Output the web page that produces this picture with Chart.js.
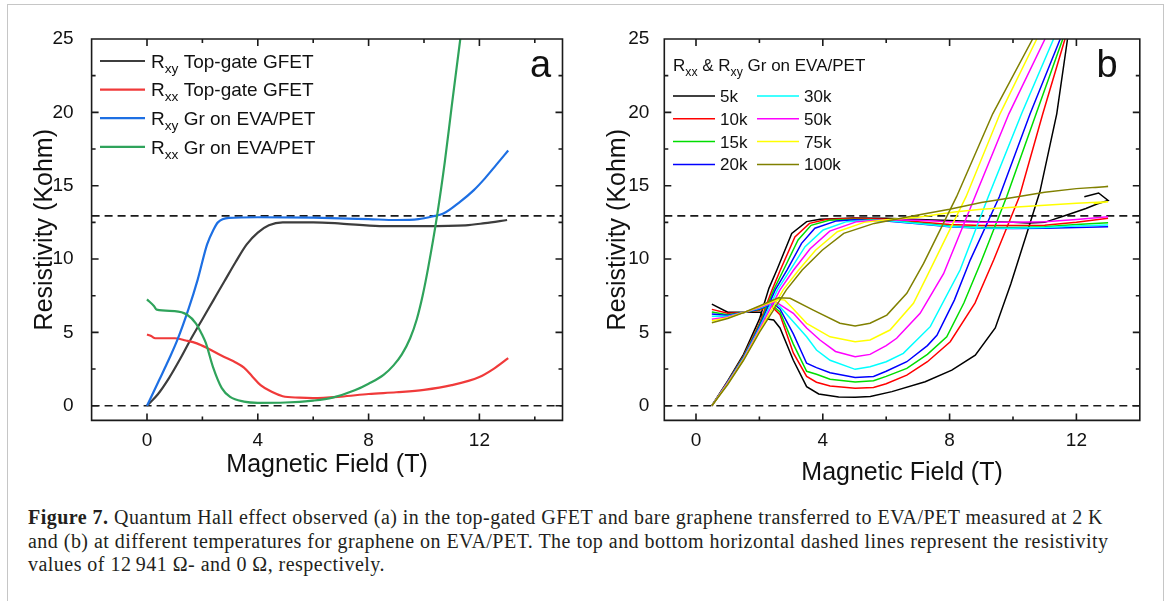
<!DOCTYPE html>
<html>
<head>
<meta charset="utf-8">
<script src="https://cdn.jsdelivr.net/npm/chart.js@4.4.1/dist/chart.umd.min.js"></script>
<style>
  body { margin: 0; width: 1167px; height: 601px; overflow: hidden; position: relative; background: #fff; }
  .frame { position: absolute; left: 7px; top: 4px; width: 1155px; height: 700px; border: 1.5px solid #c6c6c6; }
  #ca { position: absolute; left: 0; top: 0; }
  #cb { position: absolute; left: 575px; top: 0; }
  .caption { position: absolute; left: 28px; top: 506px; font-family: "Liberation Serif", "DejaVu Serif", serif;
             font-size: 20px; line-height: 23.5px; color: #231f20; white-space: nowrap; }
  .caption div { display: block; }
  .caption span.l { display: inline-block; }
</style>
</head>
<body>
<div class="frame"></div>
<canvas id="ca" width="580" height="490"></canvas>
<canvas id="cb" width="592" height="490"></canvas>
<div class="caption" id="cap">
  <div><span class="l"><b>Figure 7.</b> Quantum Hall effect observed (a) in the top-gated GFET and bare graphene transferred to EVA/PET measured at 2 K</span></div>
  <div><span class="l">and (b) at different temperatures for graphene on EVA/PET. The top and bottom horizontal dashed lines represent the resistivity</span></div>
  <div><span class="l">values of 12&#8201;941 &#937;- and 0 &#937;, respectively.</span></div>
</div>
<script>
const FONT = '"Liberation Sans", Arial, sans-serif';

// ---- panel a : 2 K, [field (T), resistivity (kOhm)] ----
const aRxyTopGate = [[0,0],[0.4,0.8],[0.8,1.9],[1.2,3.2],[1.6,4.6],[2.0,5.9],[2.4,7.2],[2.8,8.5],[3.2,9.8],[3.6,11.0],[4.0,11.8],[4.4,12.3],[4.9,12.5],[6.0,12.5],[7.0,12.42],[8.4,12.25],[10,12.25],[11.5,12.3],[12.2,12.45],[13,12.66]];
const aRxxTopGate = [[0,4.85],[0.15,4.75],[0.3,4.6],[1.0,4.6],[1.4,4.45],[1.8,4.25],[2.2,3.9],[2.7,3.4],[3.2,2.95],[3.5,2.6],[3.8,2.0],[4.1,1.4],[4.5,0.95],[4.9,0.65],[5.5,0.55],[6.0,0.52],[7.0,0.62],[8.0,0.8],[9.0,0.92],[10,1.08],[11,1.4],[12,1.96],[12.5,2.5],[13.04,3.25]];
const aRxyEva = [[0,0],[0.44,1.75],[0.8,3.2],[1.1,4.5],[1.5,6.6],[1.83,8.6],[2.17,11.0],[2.4,12.0],[2.56,12.5],[2.96,12.8],[4,12.85],[6,12.82],[8,12.72],[9,12.66],[9.8,12.72],[10.3,12.9],[10.7,13.1],[11.3,13.9],[11.8,14.7],[12.2,15.5],[12.6,16.4],[13.04,17.4]];
const aRxxEva = [[0,7.25],[0.25,6.8],[0.35,6.55],[1.0,6.45],[1.45,6.2],[1.77,5.6],[2.0,4.8],[2.12,4.3],[2.39,2.6],[2.7,1.2],[3.0,0.6],[3.5,0.28],[4.0,0.2],[5.0,0.22],[6.0,0.35],[6.7,0.55],[7.5,1.05],[8.0,1.5],[8.54,2.1],[8.9,2.75],[9.2,3.5],[9.5,4.6],[9.74,5.9],[9.95,7.5],[10.15,9.4],[10.47,12.93],[10.75,16.6],[11.0,20.4],[11.31,25]];
const aLabels = ['R_{xy} Top-gate GFET', 'R_{xx} Top-gate GFET', 'R_{xy} Gr on EVA/PET', 'R_{xx} Gr on EVA/PET'];
const aColors = ['#3d3d3d', '#f03a3a', '#1d6fe3', '#2fa35b'];

// ---- panel b : Gr on EVA/PET at several temperatures ----
const temps = ['5k', '10k', '15k', '20k', '30k', '50k', '75k', '100k'];
const tempColors = ['#000000', '#ff0000', '#00dd00', '#0000ff', '#00ffff', '#ff00ff', '#ffff00', '#808000'];

const bRxx5k = [[0.5,6.93],[1.0,6.37],[2.05,6.37],[2.1,5.95],[2.45,5.84],[2.65,5.3],[3.07,3.1],[3.49,1.3],[3.87,0.8],[4.5,0.6],[5.02,0.57],[5.5,0.63],[6.18,0.96],[7.23,1.64],[8.07,2.43],[8.81,3.45],[9.44,5.3],[9.93,8.3],[10.4,11.5],[10.85,14.6],[11.38,19.9],[11.72,25]];
const bRxx10k = [[0.5,6.57],[1.0,6.3],[1.5,6.35],[2.0,6.5],[2.35,6.85],[2.65,6.2],[3.07,3.6],[3.49,2.0],[3.8,1.6],[4.23,1.35],[5.02,1.19],[5.6,1.25],[6.0,1.5],[6.65,2.09],[7.3,3.0],[8.02,4.36],[8.8,7.0],[9.39,9.93],[10.2,14.25],[10.94,19.9],[11.64,25]];
const bRxx15k = [[0.5,6.39],[1.0,6.2],[1.5,6.35],[2.0,6.55],[2.38,6.9],[2.65,6.4],[3.07,4.2],[3.49,2.35],[3.8,2.15],[4.23,1.8],[5.02,1.62],[5.6,1.7],[6.0,2.0],[6.65,2.55],[7.3,3.5],[7.91,4.7],[8.45,7.0],[8.97,9.7],[9.8,14.25],[10.73,19.9],[11.57,25]];
const bRxx20k = [[0.5,6.25],[1.0,6.15],[1.5,6.35],[2.0,6.6],[2.42,7.0],[2.65,6.6],[3.07,4.9],[3.49,2.9],[3.8,2.6],[4.23,2.25],[5.02,1.93],[5.6,2.0],[6.0,2.35],[6.65,3.0],[7.3,4.1],[7.6,4.8],[8.15,7.2],[8.65,9.93],[9.57,14.25],[10.54,19.9],[11.49,25]];
const bRxx30k = [[0.5,6.1],[1.0,6.1],[1.5,6.35],[2.0,6.65],[2.45,7.05],[2.65,6.75],[3.07,5.73],[3.49,4.7],[3.8,3.8],[4.23,3.1],[5.02,2.48],[5.49,2.66],[6.0,3.0],[6.54,3.57],[7.39,5.39],[8.33,9.25],[9.22,14.25],[10.27,19.9],[11.28,25]];
const bRxx50k = [[0.5,5.89],[1.0,6.05],[1.5,6.35],[2.0,6.7],[2.5,7.1],[2.65,6.9],[3.07,6.3],[3.49,5.3],[3.91,4.48],[4.4,3.7],[5.02,3.34],[5.49,3.5],[6.0,4.1],[6.33,4.6],[7.07,6.3],[7.81,9.0],[8.8,14.25],[9.87,19.9],[11.01,25]];
const bRxx75k = [[0.5,5.8],[1.0,6.0],[1.5,6.35],[2.0,6.75],[2.6,7.25],[2.8,7.2],[3.07,6.6],[3.49,5.62],[4.23,4.7],[5.02,4.36],[5.49,4.48],[6.12,5.16],[6.86,6.98],[7.28,8.8],[8.52,14.25],[9.59,19.9],[10.75,25]];
const bRxx100k = [[0.5,5.66],[1.0,5.95],[1.5,6.35],[2.0,6.8],[2.6,7.36],[2.97,7.32],[3.7,6.52],[4.54,5.62],[5.02,5.43],[5.49,5.62],[6.02,6.18],[6.65,7.66],[7.18,9.7],[8.22,14.25],[9.36,19.9],[10.62,25]];

const bRxy5k = [[0.5,0],[1.0,1.7],[1.5,3.5],[2.0,5.9],[2.3,8.0],[2.55,9.25],[3.02,11.75],[3.49,12.55],[3.91,12.72],[5,12.8],[6,12.78],[7,12.7],[8,12.62],[9,12.55],[10,12.5],[10.5,12.45],[11,12.5],[11.7,13.0],[12.3,13.45],[12.65,13.75],[13,14.0],[12.7,14.5],[12.25,14.25]];
const bRxy10k = [[0.5,0],[1.0,1.65],[1.5,3.4],[2.0,5.6],[2.4,7.9],[2.66,9.25],[3.12,11.5],[3.58,12.43],[4.1,12.7],[5,12.78],[6,12.72],[7,12.55],[8,12.35],[9,12.28],[10,12.28],[11,12.3],[12,12.5],[13,12.78]];
const bRxy15k = [[0.5,0],[1.0,1.62],[1.5,3.35],[2.0,5.5],[2.45,7.9],[2.76,9.25],[3.22,11.3],[3.63,12.3],[4.2,12.65],[5,12.72],[6,12.65],[7,12.45],[8,12.25],[9,12.15],[10,12.15],[11,12.2],[12,12.35],[13,12.48]];
const bRxy20k = [[0.5,0],[1.0,1.6],[1.5,3.3],[2.0,5.4],[2.5,7.9],[2.87,9.25],[3.33,11.07],[3.75,12.1],[4.43,12.6],[5,12.68],[6,12.6],[7,12.4],[8,12.2],[9,12.1],[10,12.08],[11,12.1],[12,12.15],[13,12.2]];
const bRxy30k = [[0.5,0],[1.0,1.58],[1.5,3.25],[2.0,5.3],[2.57,7.9],[2.97,9.25],[3.44,10.84],[4.01,11.98],[4.75,12.55],[5.5,12.65],[6,12.62],[7,12.42],[8,12.22],[9,12.12],[10,12.1],[11,12.15],[12,12.25],[13,12.32]];
const bRxy50k = [[0.5,0],[1.0,1.55],[1.5,3.2],[2.0,5.2],[2.65,7.9],[3.08,9.25],[3.6,10.7],[4.22,11.9],[5.07,12.55],[6,12.68],[7,12.64],[8,12.55],[9,12.5],[10,12.5],[11,12.55],[12,12.7],[13,12.88]];
const bRxy75k = [[0.5,0],[1.0,1.5],[1.5,3.15],[2.0,5.1],[2.75,7.9],[3.24,9.25],[3.77,10.6],[4.46,11.86],[5.3,12.5],[6,12.68],[7,12.85],[8.15,13.2],[9,13.4],[10.5,13.6],[12,13.8],[13,13.9],[12.55,13.78]];
const bRxy100k = [[0.5,0],[1.0,1.45],[1.5,3.1],[2.0,5.0],[2.85,7.9],[3.35,9.25],[3.98,10.6],[4.66,11.75],[5.62,12.43],[6.15,12.65],[7,13.0],[8,13.4],[9,13.85],[10,14.2],[11,14.55],[12,14.8],[13,14.95],[12.6,14.88]];

const bRxx = [bRxx5k, bRxx10k, bRxx15k, bRxx20k, bRxx30k, bRxx50k, bRxx75k, bRxx100k];
const bRxy = [bRxy5k, bRxy10k, bRxy15k, bRxy20k, bRxy30k, bRxy50k, bRxy75k, bRxy100k];

// dashed levels: h/e^2 plateau (12 941 Ohm) and zero
const refLevels = [12.941, 0];

const xTicks = [0, 4, 8, 12];
const xMinorA = [2, 6, 10, 14];
const xMinorB = [2, 6, 10];
const yTicks = [0, 5, 10, 15, 20, 25];
const yMinor = [2.5, 7.5, 12.5, 17.5, 22.5];

const pts = arr => arr.map(([x, y]) => ({ x, y }));

function drawRich(ctx, label, x, y, size) {
  // y is the vertical centre of the capitals
  const base = y + size * 0.358;
  label.split(/_\{([^}]*)\}/).forEach((p, i) => {
    if (!p) return;
    const sub = i % 2 === 1;
    ctx.font = (sub ? size * 0.72 : size) + 'px ' + FONT;
    ctx.fillText(p, x, sub ? base + size * 0.26 : base);
    x += ctx.measureText(p).width;
  });
}

// box with inward ticks on all four sides
const frameTicks = {
  id: 'frameTicks',
  afterDraw(chart, args, o) {
    const { ctx, chartArea: a, scales: { x, y } } = chart;
    ctx.save();
    ctx.strokeStyle = '#1a1a1a';
    ctx.lineWidth = 1.6;
    ctx.beginPath();
    ctx.rect(a.left, a.top, a.right - a.left, a.bottom - a.top);
    const xm = (vals, len) => vals.forEach(v => {
      const px = x.getPixelForValue(v);
      ctx.moveTo(px, a.bottom); ctx.lineTo(px, a.bottom - len);
      ctx.moveTo(px, a.top); ctx.lineTo(px, a.top + len);
    });
    const ym = (vals, len) => vals.forEach(v => {
      const py = y.getPixelForValue(v);
      ctx.moveTo(a.left, py); ctx.lineTo(a.left + len, py);
      ctx.moveTo(a.right, py); ctx.lineTo(a.right - len, py);
    });
    xm(xTicks, 7); xm(o.xMinor, 4);
    ym(yTicks, 7); ym(yMinor, 4);
    ctx.stroke();
    ctx.restore();
  }
};

// hand-placed legend with subscripts, plus panel letter
const legendBox = {
  id: 'legendBox',
  afterDraw(chart, args, o) {
    const ctx = chart.ctx;
    ctx.save();
    ctx.fillStyle = '#111';
    ctx.textBaseline = 'alphabetic';
    ctx.textAlign = 'left';
    if (o.header) drawRich(ctx, o.header, o.x, o.headerY, o.size);
    o.labels.forEach((lab, i) => {
      const col = Math.floor(i / o.rows), row = i % o.rows;
      const x = o.x + col * o.colGap, y = o.y + row * o.rowGap;
      ctx.strokeStyle = o.colors[i];
      ctx.lineWidth = o.lineWidth;
      ctx.beginPath(); ctx.moveTo(x, y); ctx.lineTo(x + o.lineLen, y); ctx.stroke();
      drawRich(ctx, lab, x + o.lineLen + o.gap, y, o.size);
    });
    ctx.font = '38px ' + FONT;
    ctx.textAlign = 'center';
    ctx.fillText(o.tag, o.tagX, o.tagY);
    ctx.restore();
  }
};

function scales(xmin, xmax, yWidth, yTitlePad, yTickPad, xTitlePad) {
  const tickFont = { family: FONT, size: 19 };
  const titleFont = { family: FONT, size: 25 };
  return {
    x: {
      type: 'linear', min: xmin, max: xmax,
      afterBuildTicks: s => { s.ticks = xTicks.map(v => ({ value: v })); },
      afterFit: s => { s.height = 69.6; },
      grid: { display: false }, border: { display: false },
      ticks: { color: '#111', font: tickFont, padding: 1, maxRotation: 0, autoSkip: false },
      title: { display: true, text: 'Magnetic Field (T)', color: '#111', font: titleFont, padding: { top: 0, bottom: xTitlePad } }
    },
    y: {
      type: 'linear', min: -1, max: 25,
      afterBuildTicks: s => { s.ticks = yTicks.map(v => ({ value: v })); },
      afterFit: s => { s.width = yWidth; },
      grid: { display: false }, border: { display: false },
      ticks: { color: '#111', font: tickFont, padding: yTickPad, autoSkip: false },
      title: { display: true, text: 'Resistivity (Kohm)', color: '#111', font: titleFont, padding: { top: yTitlePad, bottom: 0 } }
    }
  };
}

function refSets(xmin, xmax) {
  return refLevels.map(v => ({
    data: [{ x: xmin, y: v }, { x: xmax, y: v }],
    borderColor: '#1a1a1a', borderWidth: 1.6, borderDash: [8, 5],
    showLine: true, pointRadius: 0
  }));
}

// panel a: first dataset is drawn on top, so list green first
const aSeries = [aRxyTopGate, aRxxTopGate, aRxyEva, aRxxEva];
const aSets = aSeries.map((s, i) => ({
  data: pts(s), borderColor: aColors[i], borderWidth: 2.2,
  showLine: true, pointRadius: 0, cubicInterpolationMode: 'monotone'
})).reverse();

new Chart(document.getElementById('ca'), {
  type: 'scatter',
  data: { datasets: aSets.concat(refSets(-2, 15)) },
  options: {
    responsive: false, animation: false, devicePixelRatio: 1,
    layout: { padding: { top: 39, right: 17.5, left: 0, bottom: 0 } },
    scales: scales(-2, 15, 91.6, 30, 10, 10),
    plugins: {
      legend: { display: false }, tooltip: { enabled: false },
      frameTicks: { xMinor: xMinorA },
      legendBox: { x: 100, y: 61, rows: 4, rowGap: 28.6, colGap: 0, lineLen: 45, gap: 6, size: 19,
                   lineWidth: 2.2, labels: aLabels, colors: aColors, tag: 'a', tagX: 540.5, tagY: 77 }
    }
  },
  plugins: [frameTicks, legendBox]
});

// panel b: hottest on top
const bSets = [];
for (let i = temps.length - 1; i >= 0; i--) {
  [bRxy[i], bRxx[i]].forEach(s => bSets.push({
    data: pts(s), borderColor: tempColors[i], borderWidth: 1.5,
    showLine: true, pointRadius: 0, tension: 0
  }));
}

new Chart(document.getElementById('cb'), {
  type: 'scatter',
  data: { datasets: bSets.concat(refSets(-1, 14)) },
  options: {
    responsive: false, animation: false, devicePixelRatio: 1,
    layout: { padding: { top: 39, right: 27.2, left: 0, bottom: 0 } },
    scales: scales(-1, 14, 89.3, 28, 7, 2),
    plugins: {
      legend: { display: false }, tooltip: { enabled: false },
      frameTicks: { xMinor: xMinorB },
      legendBox: { header: 'R_{xx} & R_{xy} Gr on EVA/PET', headerY: 65,
                   x: 98, y: 96, rows: 4, rowGap: 22.8, colGap: 84, lineLen: 42, gap: 5, size: 17,
                   lineWidth: 1.5, labels: temps, colors: tempColors, tag: 'b', tagX: 532, tagY: 77 }
    }
  },
  plugins: [frameTicks, legendBox]
});

// stretch caption letter spacing so the first line spans the same width as the printed one
const capLines = document.querySelectorAll('#cap span.l');
const firstW = capLines[0].getBoundingClientRect().width;
const nChars = capLines[0].textContent.length;
const ls = (1075 - firstW) / nChars;
document.getElementById('cap').style.letterSpacing = ls.toFixed(3) + 'px';
</script>
</body>
</html>
